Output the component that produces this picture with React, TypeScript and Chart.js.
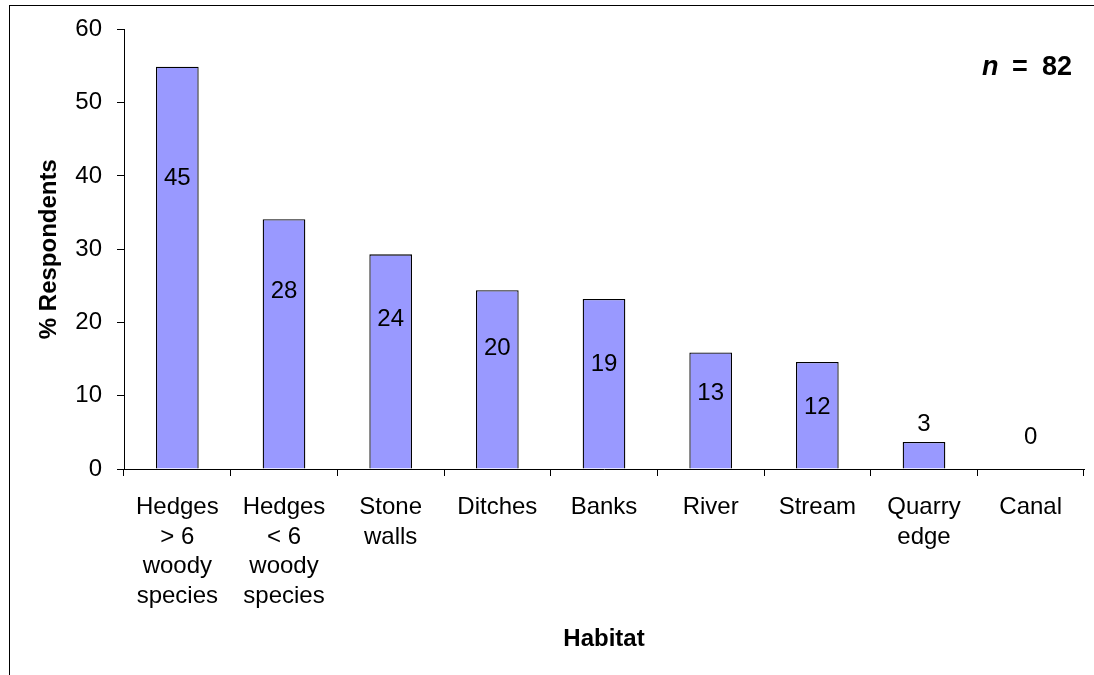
import React, { useEffect, useRef } from "react";
import { Chart, registerables } from "chart.js";

Chart.register(...registerables);

const categories: string[][] = [
  ["Hedges", "> 6", "woody", "species"],
  ["Hedges", "< 6", "woody", "species"],
  ["Stone", "walls"],
  ["Ditches"],
  ["Banks"],
  ["River"],
  ["Stream"],
  ["Quarry", "edge"],
  ["Canal"],
];

const percentRespondents: number[] = [54.9, 34.1, 29.3, 24.4, 23.2, 15.9, 14.6, 3.7, 0];
const respondentCounts: number[] = [45, 28, 24, 20, 19, 13, 12, 3, 0];
const countLabelLevels: number[] = [39.6, 24.2, 20.4, 16.4, 14.3, 10.3, 8.4, 6.1, 4.3];

const yTicks = { min: 0, max: 60, step: 10 };
const yTitle = "% Respondents";
const xTitle = "Habitat";
const sampleSize = "82";

const FONT = "'Liberation Sans', Arial, sans-serif";

export default function App() {
  const canvasRef = useRef<HTMLCanvasElement | null>(null);

  useEffect(() => {
    const canvas = canvasRef.current;
    if (!canvas) return;

    const textPlugin = {
      id: "textPlugin",
      afterDatasetsDraw(chart: any) {
        const ctx = chart.ctx;
        const meta = chart.getDatasetMeta(0);
        const yScale = chart.scales.y;
        const area = chart.chartArea;
        ctx.save();
        ctx.fillStyle = "#000";
        ctx.textAlign = "center";
        ctx.textBaseline = "middle";
        ctx.font = `24px ${FONT}`;
        meta.data.forEach((bar: any, i: number) => {
          ctx.fillText(String(respondentCounts[i]), bar.x, yScale.getPixelForValue(countLabelLevels[i]));
        });

        // axis titles
        ctx.font = `bold 24px ${FONT}`;
        ctx.fillText(xTitle, (area.left + area.right) / 2, 639);
        ctx.save();
        ctx.translate(49, (area.top + area.bottom) / 2);
        ctx.rotate(-Math.PI / 2);
        ctx.fillText(yTitle, 0, 0);
        ctx.restore();

        // n = 82
        ctx.textBaseline = "middle";
        ctx.textAlign = "left";
        ctx.font = `italic bold 27px ${FONT}`;
        ctx.fillText("n", 982, 68);
        ctx.font = `bold 27px ${FONT}`;
        ctx.textAlign = "center";
        ctx.fillText("=", 1020, 68);
        ctx.textAlign = "right";
        ctx.fillText(sampleSize, 1072, 68);
        ctx.restore();
      },
    };

    const chart = new Chart(canvas, {
      type: "bar",
      data: {
        labels: categories,
        datasets: [
          {
            data: percentRespondents,
            backgroundColor: "#9999FF",
            borderColor: "#000000",
            borderWidth: 1.3,
            categoryPercentage: 1,
            barPercentage: 0.4,
          },
        ],
      },
      options: {
        responsive: false,
        animation: false,
        devicePixelRatio: 1,
        layout: { padding: { left: 0, top: 25, right: 10, bottom: 0 } },
        plugins: {
          legend: { display: false },
          tooltip: { enabled: false },
          title: { display: false },
        },
        scales: {
          x: {
            offset: true,
            grid: {
              display: true,
              offset: true,
              drawOnChartArea: false,
              drawTicks: true,
              tickLength: 7,
              color: "#000",
              lineWidth: 1,
            },
            border: { display: true, color: "#000", width: 1 },
            ticks: {
              color: "#000",
              font: { family: FONT, size: 24, lineHeight: 1.23 },
              padding: 17,
              maxRotation: 0,
              minRotation: 0,
              autoSkip: false,
            },
            afterFit(scale: any) {
              scale.height = 206;
            },
          },
          y: {
            min: yTicks.min,
            max: yTicks.max,
            grid: {
              display: true,
              drawOnChartArea: false,
              drawTicks: true,
              tickLength: 7,
              color: "#000",
              lineWidth: 1,
            },
            border: { display: true, color: "#000", width: 1 },
            ticks: {
              stepSize: yTicks.step,
              color: "#000",
              font: { family: FONT, size: 24 },
              padding: 15,
            },
            afterFit(scale: any) {
              scale.width = 124;
            },
          },
        },
      },
      plugins: [textPlugin],
    } as any);

    return () => chart.destroy();
  }, []);

  return (
    <div
      style={{
        position: "fixed",
        left: 0,
        top: 0,
        width: 1094,
        height: 675,
        overflow: "hidden",
        background: "#fff",
      }}
    >
      <div
        style={{
          position: "absolute",
          left: 9,
          top: 5,
          width: 1200,
          height: 800,
          border: "1px solid #000",
          boxSizing: "border-box",
        }}
      />
      <canvas
        ref={canvasRef}
        width={1094}
        height={675}
        style={{ position: "absolute", left: 0, top: 0, width: 1094, height: 675 }}
      />
    </div>
  );
}
